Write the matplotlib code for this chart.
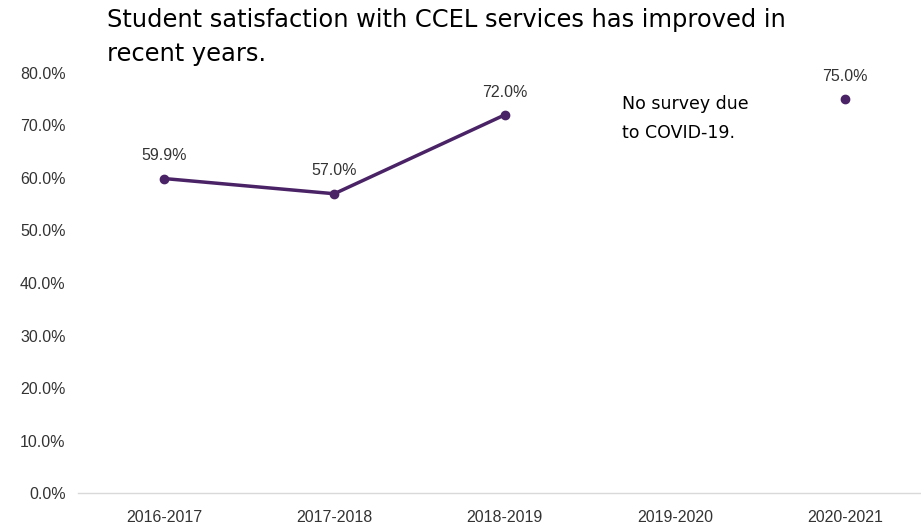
import numpy as np
import matplotlib
matplotlib.use('Agg')
import matplotlib.pyplot as plt
from matplotlib.ticker import FuncFormatter

# dados da pesquisa de satisfação (2019-2020 sem pesquisa)
anos = ['2016-2017', '2017-2018', '2018-2019', '2019-2020', '2020-2021']
satisfacao = [59.9, 57.0, 72.0, np.nan, 75.0]
ticks_y = [0, 10, 20, 30, 40, 50, 60, 70, 80]

cor = '#4a2366'
fonte_eixo = ['Liberation Sans Narrow', 'Liberation Sans', 'DejaVu Sans']
fonte_titulo = ['DejaVu Sans']

fig = plt.figure(figsize=(9.21, 5.27), dpi=100)
ax = fig.add_axes([0.0847, 0.0645, 0.9153, 0.797])

x = np.arange(len(anos))
ax.plot(x, satisfacao, color=cor, linewidth=2.5, marker='o', markersize=6)

# rótulos dos valores acima de cada ponto
for xi, v in zip(x, satisfacao):
    if np.isnan(v):
        continue
    ax.annotate(f'{v:.1f}%', (xi, v), xytext=(0, 11), textcoords='offset points',
                ha='center', va='bottom', fontsize=11.5, color='#333333',
                family=fonte_eixo)

ax.text(2.69, 71.3, 'No survey due\nto COVID-19.', ha='left', va='center',
        fontsize=12.5, color='black', family=fonte_titulo, linespacing=1.75)

ax.set_xlim(-0.505, 4.446)
ax.set_ylim(0, 80)
ax.set_xticks(x)
ax.set_xticklabels(anos, family=fonte_eixo, fontsize=11.5, color='#333333')
ax.set_yticks(ticks_y)
ax.yaxis.set_major_formatter(FuncFormatter(lambda v, p: f'{v:.1f}%'))
for lbl in ax.get_yticklabels():
    lbl.set_family(fonte_eixo)
    lbl.set_fontsize(11.5)
    lbl.set_color('#333333')
ax.tick_params(axis='both', length=0, pad=12)
ax.tick_params(axis='y', pad=9)

for s in ['top', 'right', 'left']:
    ax.spines[s].set_visible(False)
ax.spines['bottom'].set_color('#d9d9d9')
ax.spines['bottom'].set_linewidth(1)

fig.text(107 / 921, 1 - 8 / 527, 'Student satisfaction with CCEL services has improved in\nrecent years.',
         ha='left', va='top', fontsize=17.4, family=fonte_titulo, color='black',
         linespacing=1.55)

fig.savefig('out.png', dpi=100)
